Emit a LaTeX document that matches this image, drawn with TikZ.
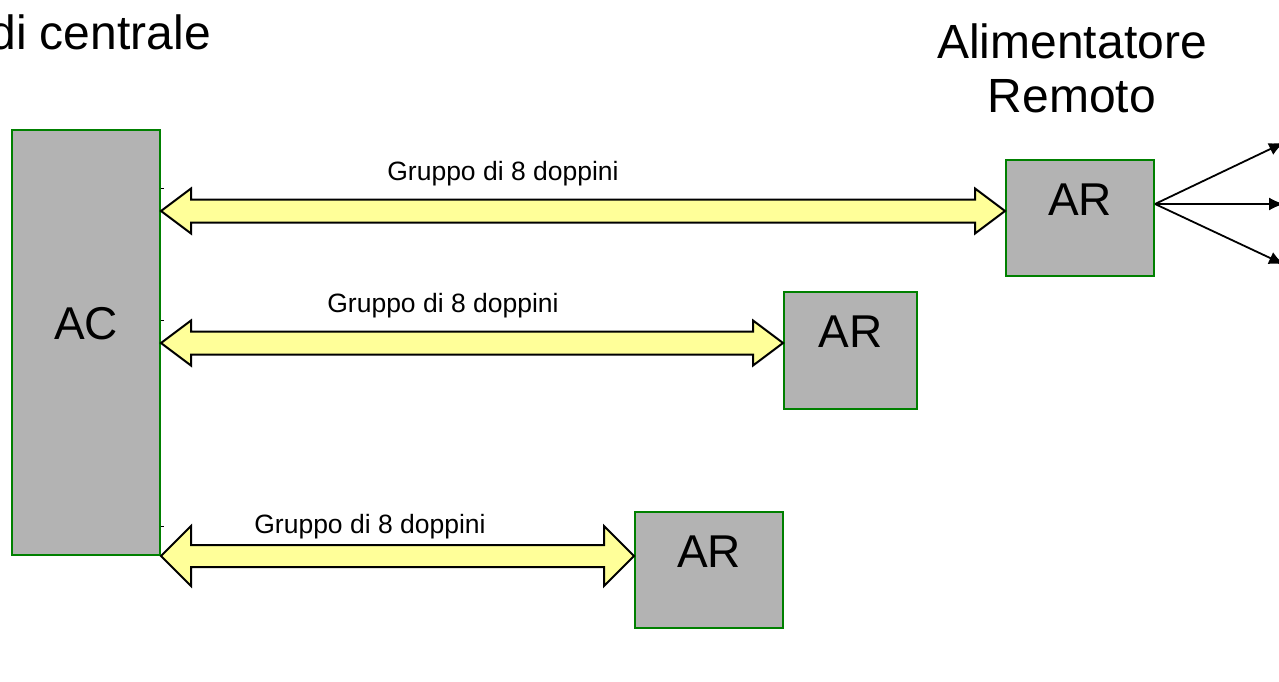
\documentclass[tikz,border=0pt]{standalone}
\usepackage{fontspec}
\setmainfont{Liberation Sans}
\usetikzlibrary{arrows.meta}
\definecolor{boxgrey}{HTML}{B3B3B3}
\definecolor{boxgreen}{HTML}{008000}
\definecolor{pipeyellow}{HTML}{FFFF99}
\newcommand{\dblpipe}[4]{%
  \draw[pipe] (#1) -- ([shift={(30,-#3)}]#1) -- ([shift={(30,-#4)}]#1)
    -- ([shift={(-30,-#4)}]#2) -- ([shift={(-30,-#3)}]#2) -- (#2)
    -- ([shift={(-30,#3)}]#2) -- ([shift={(-30,#4)}]#2)
    -- ([shift={(30,#4)}]#1) -- ([shift={(30,#3)}]#1) -- cycle;}
\begin{document}
\begin{tikzpicture}[x=1pt,y=-1pt,
  box/.style={draw=boxgreen,line width=2pt,fill=boxgrey,inner sep=0pt},
  big/.style={font=\fontsize{46}{54}\selectfont,inner sep=0pt},
  bigger/.style={font=\fontsize{48}{54}\selectfont,inner sep=0pt},
  small/.style={font=\fontsize{26.5}{30}\selectfont,inner sep=0pt},
  pipe/.style={draw=black,line width=2pt,fill=pipeyellow,line join=miter},
  fan/.style={draw=black,line width=1.8pt,-{Latex[length=15pt,width=13pt]}},
  tick/.style={draw=black,line width=1pt}]
\useasboundingbox (0,0) rectangle (1279,682);
% boxes
\node[box,minimum width=148pt,minimum height=425pt] (AC) at (86,342.5) {};
\node[box,minimum width=148pt,minimum height=116pt] (AR1) at (1080,218) {};
\node[box,minimum width=133pt,minimum height=117pt] (AR2) at (850.5,350.5) {};
\node[box,minimum width=148pt,minimum height=116pt] (AR3) at (709,570) {};
% box texts
\node[big,anchor=base] (tAC) at (86,339) {AC};
\node[big,anchor=base] (tAR1) at (1080,215) {AR};
\node[big,anchor=base] (tAR2) at (850.5,347) {AR};
\node[big,anchor=base] (tAR3) at (709,567) {AR};
% titles
\node[bigger,anchor=base east] (title1) at (211,50) {di centrale};
\node[bigger,anchor=base] (title2a) at (1072,59) {Alimentatore};
\node[bigger,anchor=base] (title2b) at (1072,113) {Remoto};
% pipe ends
\coordinate (p1l) at (AC.east |- 0,211);
\coordinate (p1r) at (AR1.west |- 0,211);
\coordinate (p2l) at (AC.east |- 0,343);
\coordinate (p2r) at (AR2.west |- 0,343);
\coordinate (p3l) at (AC.east |- 0,556);
\coordinate (p3r) at (AR3.west |- 0,556);
\dblpipe{p1l}{p1r}{22.5}{11.5}
\dblpipe{p2l}{p2r}{22.5}{11.5}
\dblpipe{p3l}{p3r}{30}{11}
% labels
\node[small,anchor=base] (l1) at (503,180) {Gruppo di 8 doppini};
\node[small,anchor=base] (l2) at (443,312) {Gruppo di 8 doppini};
\node[small,anchor=base] (l3) at (370,533) {Gruppo di 8 doppini};
% small ticks on AC
\draw[tick] (AC.east |- 0,188) -- ++(2.5,0);
\draw[tick] (AC.east |- 0,320) -- ++(2.5,0);
\draw[tick] (AC.east |- 0,526) -- ++(2.5,0);
% fan
\coordinate (fo) at (AR1.east |- 0,204);
\coordinate (f1) at (1284,142.5);
\coordinate (f2) at (1284,204);
\coordinate (f3) at (1284,264.5);
\draw[fan] (fo) -- (f1);
\draw[fan] (fo) -- (f2);
\draw[fan] (fo) -- (f3);
\end{tikzpicture}
\end{document}
